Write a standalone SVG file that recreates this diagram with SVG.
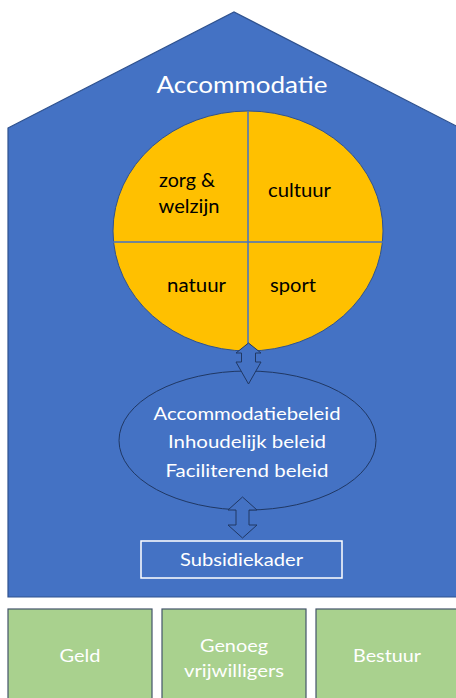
<svg xmlns="http://www.w3.org/2000/svg" width="456" height="698" viewBox="0 0 456 698">
<style>
.w{fill:#fff;font-family:Lato,"Open Sans",sans-serif;text-anchor:middle}
.b{fill:#000;font-family:Lato,"Open Sans",sans-serif;text-anchor:middle;font-size:18.5px}
.arrow{fill:#4472C4;stroke:#203864;stroke-width:1}
.green{fill:#A9D18E;stroke:#44546A;stroke-width:1.2}
</style>
<rect width="456" height="698" fill="#fff"/>
<g id="house">
<polygon points="8,128 234,12 460,128 460,597 8,597" fill="#4472C4" stroke="#2F528F" stroke-width="1.2"/>
<text class="w" x="242" y="93" font-size="23" textLength="171" lengthAdjust="spacingAndGlyphs">Accommodatie</text>
</g>
<g id="domains">
<ellipse cx="248" cy="231" rx="135" ry="120" fill="#FFC000" stroke="#2F528F" stroke-width="1"/>
<line x1="248" y1="111" x2="248" y2="351" stroke="#4472C4" stroke-width="1.5"/>
<line x1="113" y1="242" x2="383" y2="242" stroke="#4472C4" stroke-width="1.5"/>
<text class="b" x="187" y="187" textLength="56" lengthAdjust="spacingAndGlyphs">zorg &amp;</text>
<text class="b" x="189" y="213" textLength="61" lengthAdjust="spacingAndGlyphs">welzijn</text>
<text class="b" x="299.5" y="197" textLength="63" lengthAdjust="spacingAndGlyphs">cultuur</text>
<text class="b" x="196.5" y="292" textLength="59" lengthAdjust="spacingAndGlyphs">natuur</text>
<text class="b" x="293" y="292" textLength="46" lengthAdjust="spacingAndGlyphs">sport</text>
</g>
<g id="beleid">
<ellipse cx="247.5" cy="440.5" rx="128.5" ry="69.5" fill="#4472C4" stroke="#203864" stroke-width="1"/>
<text class="w" x="247" y="420" font-size="18" textLength="187" lengthAdjust="spacingAndGlyphs">Accommodatiebeleid</text>
<text class="w" x="247" y="448" font-size="18" textLength="158" lengthAdjust="spacingAndGlyphs">Inhoudelijk beleid</text>
<text class="w" x="247" y="477" font-size="18" textLength="163" lengthAdjust="spacingAndGlyphs">Faciliterend beleid</text>
</g>
<g id="connectors">
<polygon class="arrow" points="248.5,343 261,353 255.5,353 255.5,362 261,362 248.5,384 236,362 241.5,362 241.5,353 236,353"/>
<polygon class="arrow" points="242.5,497 257,510 249,510 249,525 257,525 242.5,538 228,525 236,525 236,510 228,510"/>
</g>
<g id="subsidiekader">
<rect x="141" y="541" width="201" height="37" fill="none" stroke="#fff" stroke-width="1.5"/>
<text class="w" x="241.5" y="566" font-size="18" textLength="123" lengthAdjust="spacingAndGlyphs">Subsidiekader</text>
</g>
<g id="geld">
<rect class="green" x="8" y="609" width="144" height="95"/>
<text class="w" x="80" y="662" font-size="18" textLength="41" lengthAdjust="spacingAndGlyphs">Geld</text>
</g>
<g id="vrijwilligers">
<rect class="green" x="162" y="609" width="144" height="95"/>
<text class="w" x="234" y="652" font-size="18" textLength="68" lengthAdjust="spacingAndGlyphs">Genoeg</text>
<text class="w" x="234" y="677" font-size="18" textLength="100" lengthAdjust="spacingAndGlyphs">vrijwilligers</text>
</g>
<g id="bestuur">
<rect class="green" x="316" y="609" width="150" height="95"/>
<text class="w" x="387" y="662" font-size="18" textLength="68" lengthAdjust="spacingAndGlyphs">Bestuur</text>
</g>
</svg>
